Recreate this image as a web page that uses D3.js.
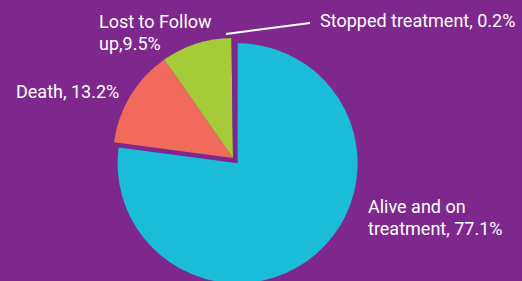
<!DOCTYPE html>
<html lang="en">
<head>
<meta charset="UTF-8">
<title>Treatment outcomes</title>
<script src="https://d3js.org/d3.v7.min.js"></script>
<style>
    body { margin: 0; padding: 0; background-color: #7E288E; }
    svg { display: block; }
    .label {
        font-family: "Roboto", sans-serif;
        font-size: 18px;
        fill: #fff;
    }
</style>
</head>
<body>
<svg></svg>
<script>
    const width = 522;
    const height = 281;

    // slices in drawing order, clockwise from 12 o'clock
    const categories = ["Alive and on treatment", "Death", "Lost to Follow up", "Stopped treatment"];
    const values = [77.1, 13.2, 9.5, 0.2];
    const colors = ["#1BBCD8", "#F26A5C", "#A6CB39", "#7E288E"];
    const explode = [7, 0, 0, 0];

    const labelLines = [
        ["Alive and on", "treatment, 77.1%"],
        ["Death, 13.2%"],
        ["Lost to Follow", "up,9.5%"],
        ["Stopped treatment, 0.2%"]
    ];
    const labelPos = [[368, 213], [16, 98], [99, 28], [320, 27]];

    const cx = 233, cy = 158, radius = 120;

    const svg = d3.select("svg")
        .attr("width", width)
        .attr("height", height);

    svg.append("rect")
        .attr("width", width)
        .attr("height", height)
        .attr("fill", "#7E288E");

    const pie = d3.pie().sort(null).value(d => d);
    const arcs = pie(values);
    const arc = d3.arc().innerRadius(0).outerRadius(radius);

    const g = svg.append("g").attr("transform", `translate(${cx},${cy})`);

    g.selectAll("path")
        .data(arcs)
        .enter().append("path")
        .attr("d", arc)
        .attr("fill", (d, i) => colors[i])
        .attr("transform", (d, i) => {
            const mid = (d.startAngle + d.endAngle) / 2;
            return `translate(${Math.sin(mid) * explode[i]},${-Math.cos(mid) * explode[i]})`;
        });

    // leader line for the tiny slice
    svg.append("line")
        .attr("x1", 226).attr("y1", 34)
        .attr("x2", 310).attr("y2", 23)
        .style("stroke", "#fff")
        .style("stroke-width", 2);

    const labels = svg.selectAll("text.label")
        .data(labelLines)
        .enter().append("text")
        .attr("class", "label")
        .attr("x", (d, i) => labelPos[i][0])
        .attr("y", (d, i) => labelPos[i][1]);

    labels.selectAll("tspan")
        .data(d => d)
        .enter().append("tspan")
        .attr("x", function () { return this.parentNode.getAttribute("x"); })
        .attr("dy", (d, j) => j === 0 ? 0 : 22)
        .text(d => d);
</script>
</body>
</html>
